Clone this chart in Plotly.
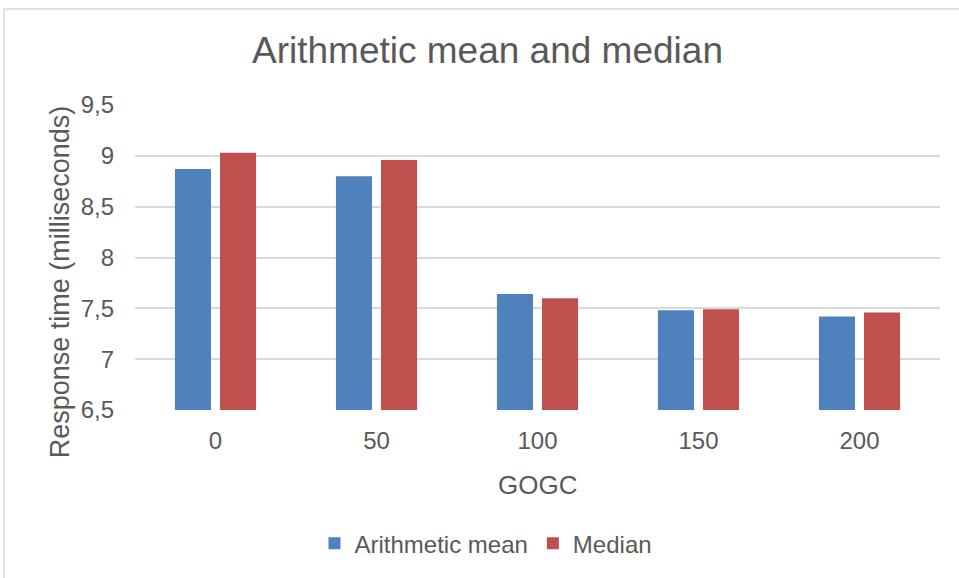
import plotly.graph_objects as go

# GOGC settings and measured response times (ms)
gogc = ["0", "50", "100", "150", "200"]
arithmetic_mean = [8.87, 8.80, 7.64, 7.48, 7.42]
median = [9.03, 8.96, 7.60, 7.49, 7.46]
y_ticks = [6.5, 7, 7.5, 8, 8.5, 9, 9.5]
y_tick_text = ["6,5", "7", "7,5", "8", "8,5", "9", "9,5"]

TEXT = "#595959"
GRID = "#D9D9D9"
FONT = "Liberation Sans, Arial, sans-serif"

fig = go.Figure()
fig.add_trace(go.Bar(x=gogc, y=arithmetic_mean, name="Arithmetic mean",
                     marker=dict(color="#4F81BD", line=dict(width=0))))
fig.add_trace(go.Bar(x=gogc, y=median, name="Median",
                     marker=dict(color="#C0504D", line=dict(width=0))))

fig.update_layout(
    width=959, height=578,
    margin=dict(l=135, r=19, t=105, b=165, pad=0),
    paper_bgcolor="white", plot_bgcolor="white",
    font=dict(family=FONT, color=TEXT, size=24),
    barmode="group", bargap=0.44, bargroupgap=0.2,
    showlegend=True,
    legend=dict(orientation="h", x=0.436, xanchor="center",
                y=-0.438, yanchor="middle", font=dict(size=24, color=TEXT),
                itemwidth=30, traceorder="normal", bgcolor="rgba(0,0,0,0)"),
    xaxis=dict(type="category", showgrid=False, showline=False, zeroline=False,
               ticks="", tickfont=dict(size=24, color=TEXT), ticklabelstandoff=14),
    yaxis=dict(range=[6.5, 9.5], tickvals=y_ticks, ticktext=y_tick_text,
               showgrid=True, gridcolor=GRID, gridwidth=1.5, zeroline=False,
               showline=False, ticks="", tickfont=dict(size=24, color=TEXT),
               ticklabelstandoff=20),
)

# chart title and axis titles
fig.add_annotation(text="Arithmetic mean and median", xref="paper", yref="paper",
                   x=(487 - 135) / 805, y=(413 - 50) / 308, showarrow=False,
                   xanchor="center", yanchor="middle",
                   font=dict(size=37, color=TEXT, family=FONT))
fig.add_annotation(text="GOGC", xref="paper", yref="paper",
                   x=0.5, y=(413 - 489) / 308, showarrow=False,
                   xanchor="center", yanchor="middle",
                   font=dict(size=26, color=TEXT, family=FONT))
fig.add_annotation(text="Response time (milliseconds)", xref="paper", yref="paper",
                   x=(60 - 135) / 805, y=(413 - 284) / 308, showarrow=False,
                   textangle=-90, xanchor="center", yanchor="middle",
                   font=dict(size=27, color=TEXT, family=FONT))

# outer chart frame
fig.add_shape(type="rect", xref="paper", yref="paper",
              x0=(4 - 135) / 805, x1=1.2, y0=-0.7, y1=(413 - 8) / 308,
              line=dict(color=GRID, width=1.5), fillcolor="rgba(0,0,0,0)", layer="below")

fig.write_html("out.html")
